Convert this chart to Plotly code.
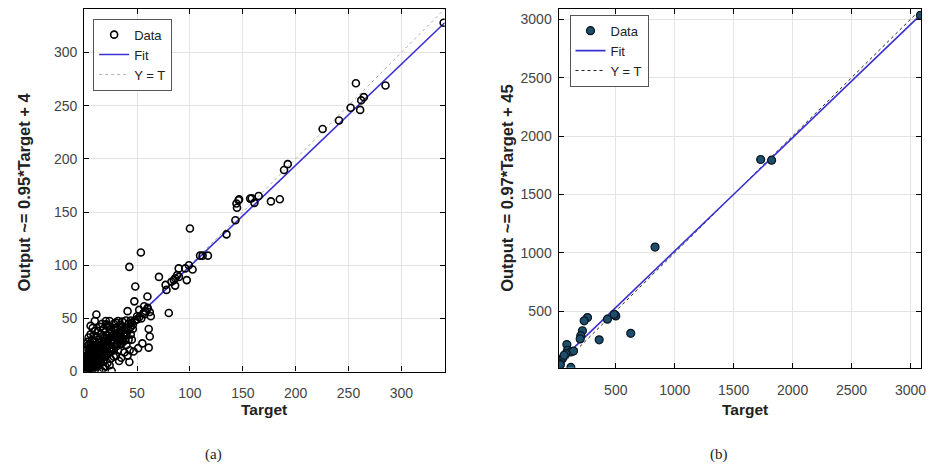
import plotly.graph_objects as go

# ---------- (a) data ----------
target_a = [340, 257, 285, 264.5, 262, 252, 261, 241, 225.5, 192.5, 189, 146, 144, 144.5, 146.5, 157, 158.5, 161, 165, 176.6, 185,
            143, 134.6, 100, 109.6, 112, 117, 99, 102.5, 89.4, 95.6, 88, 86, 89.6, 82.5, 84.8, 77, 77.8, 86, 97, 70.7, 53.6, 42.7,
            48.3, 47.4, 59.8, 41, 52, 56.7, 80, 61, 62, 61, 55, 51, 46.7, 42.7, 26, 16.5, 11.5, 6, 10, 24, 32, 39.6, 21, 8, 20.5, 24.6,
            45, 48, 50, 52, 54, 57, 58, 60, 62, 63, 60, 56, 50, 46, 44, 42, 40, 38, 36, 35, 33, 30, 28, 31, 34, 37, 39, 36, 32, 29, 27,
            25, 26, 24, 22, 20, 23, 21, 19, 18, 17, 16, 15, 14, 13, 12, 11, 10, 9, 8, 7, 6, 5, 4, 3, 2, 1, 2, 3, 4, 1, 2, 5, 6, 3, 8, 10,
            12, 14, 16, 13, 18, 20, 22, 25, 28, 30, 34, 36, 38, 40, 42, 44, 43, 41, 38, 35, 33, 30, 28, 25, 22, 20, 18, 15, 12, 10, 8,
            6, 4, 2, 1, 3, 5, 7, 9, 11, 13, 15, 17, 19, 21, 23, 25, 27, 29, 31, 33, 35, 37, 39, 2, 4, 7, 9, 11, 14, 16, 19, 21, 24, 26,
            29, 31, 34, 1, 3, 5, 7, 6, 9, 12, 15, 17, 10, 4, 2, 32, 28, 24, 20, 18, 14, 40, 42, 44, 46, 45,
            1, 2, 3, 4, 5, 6, 7, 8, 9, 10, 11, 12, 13, 14, 15, 16, 17, 18, 1.5, 2.5, 3.5, 4.5, 5.5, 6.5, 7.5, 8.5, 9.5, 10.5,
            11.5, 12.5, 13.5, 14.5, 1, 2, 3, 4, 5, 6, 7, 8, 9, 10, 22, 26, 30, 34, 27, 31]
output_a = [328, 271, 269, 258, 255, 248, 246, 236, 228, 195, 189.5, 161, 158, 154, 162, 162.6, 163, 158.6, 165, 160, 162,
            142.3, 129, 134.5, 109, 109, 109, 100, 96, 97, 97, 90.7, 87.7, 89, 84.5, 86, 81.5, 76.8, 80.8, 86, 89, 112, 98.4,
            80, 66, 70.6, 56.8, 58, 61.4, 55, 40, 33, 22.5, 26.5, 22, 18.8, 9, 0.6, 0.6, 53.7, 43, 47.5, 47.5, 47.5, 48, 44.4, 41, 47.5, 42.3,
            46, 48, 49, 51, 50, 54, 57, 59, 56, 52, 60, 55, 52, 44, 42, 45, 41, 40, 38, 42, 36, 33, 35, 29, 31, 35, 37, 30, 40, 39, 30,
            28, 33, 22, 26, 24, 31, 19, 28, 21, 17, 25, 20, 13, 18, 16, 10, 14, 12, 8, 11, 6, 9, 4, 7, 3, 2, 10, 15, 18, 17, 20, 22, 27, 28, 30, 29,
            25, 30, 35, 38, 40, 37, 43, 40, 45, 46, 44, 47, 33, 25, 30, 35, 20, 15, 18, 13, 10, 15, 20, 12, 8, 5, 10, 7, 5, 2, 3,
            1, 0.5, 1, 5, 1, 3, 5, 6, 7, 9, 11, 13, 14, 15, 17, 19, 22, 24, 26, 28, 26, 28, 30, 13, 25, 20, 23, 21, 23, 28, 32, 34, 36, 38,
            41, 36, 39, 0.5, 3, 14, 16, 35, 34, 33, 42, 45, 38, 32, 26, 20, 14, 6, 17, 3, 1, 35, 39, 48, 40, 30,
            8, 5, 12, 9, 16, 11, 14, 19, 17, 21, 15, 24, 19, 27, 22, 20, 26, 23, 1, 4, 2, 7, 3, 10, 2, 5, 8, 12, 9, 18, 6, 11,
            20, 12, 24, 16, 19, 14, 24, 13, 25, 18, 29, 21, 32, 26, 20, 24]

# ---------- (b) data ----------
target_b = [3085, 1729, 1822, 833, 627, 359, 494, 429, 260, 232, 217, 203, 198, 500, 486, 85, 91, 119, 141, 76, 48, 6, 11, 34, 119, 20, 62, 20, 30]
output_b = [3035, 1799, 1793, 1048, 309, 253, 466, 430, 444, 416, 331, 289, 261, 458, 472, 213, 163, 149, 157, 135, 93, 56, 36, 73, 17, 51, 121, 25, 40]

fit_a = (0.95, 4)
fit_b = (0.97, 45)
range_a = [0, 341]
range_b = [15, 3090]
ticks_a = [0, 50, 100, 150, 200, 250, 300]
ticks_b = [500, 1000, 1500, 2000, 2500, 3000]

W, H = 935, 470
def px(x):
    return x / W
def py(y):
    return 1 - y / H

fig = go.Figure()

# (a) lines
fig.add_trace(go.Scatter(x=range_a, y=range_a, mode="lines", name="Y = T",
                         line=dict(color="#b0b0b0", width=1, dash="dot"), xaxis="x", yaxis="y",
                         legend="legend", legendrank=3))
fig.add_trace(go.Scatter(x=range_a, y=[fit_a[0] * v + fit_a[1] for v in range_a], mode="lines", name="Fit",
                         line=dict(color="#3a2fd0", width=1.6), xaxis="x", yaxis="y",
                         legend="legend", legendrank=2))
fig.add_trace(go.Scatter(x=target_a, y=output_a, mode="markers", name="Data",
                         marker=dict(symbol="circle-open", size=7, color="black", line=dict(width=1.6, color="black")),
                         xaxis="x", yaxis="y", legend="legend", legendrank=1))

# (b) lines
fig.add_trace(go.Scatter(x=range_b, y=range_b, mode="lines", name="Y = T",
                         line=dict(color="#222222", width=1, dash="dot"), xaxis="x2", yaxis="y2",
                         legend="legend2", legendrank=3))
fig.add_trace(go.Scatter(x=range_b, y=[fit_b[0] * v + fit_b[1] for v in range_b], mode="lines", name="Fit",
                         line=dict(color="#3a2fd0", width=1.6), xaxis="x2", yaxis="y2",
                         legend="legend2", legendrank=2))
fig.add_trace(go.Scatter(x=target_b, y=output_b, mode="markers", name="Data",
                         marker=dict(symbol="circle", size=8, color="#1d4e6b", line=dict(width=1.2, color="#0a1620")),
                         xaxis="x2", yaxis="y2", legend="legend2", legendrank=1))

axis_common = dict(showline=True, linecolor="black", linewidth=1.2, mirror="ticks", ticks="inside",
                   ticklen=5, tickcolor="black", tickwidth=1.2, showgrid=True, gridcolor="#e3e3e3",
                   gridwidth=1, zeroline=False, tickfont=dict(family="Arial, Liberation Sans", size=14, color="#444444"))

fig.update_layout(
    width=W, height=H, margin=dict(l=0, r=0, t=0, b=0),
    paper_bgcolor="white", plot_bgcolor="white",
    xaxis=dict(domain=[px(81), px(445)], range=range_a, tickvals=ticks_a, anchor="y", ticklabelstandoff=9, **axis_common),
    yaxis=dict(domain=[py(378), py(9)], range=range_a, tickvals=ticks_a, anchor="x", ticklabelstandoff=3, **axis_common),
    xaxis2=dict(domain=[px(560), px(926)], range=range_b, tickvals=ticks_b, anchor="y2", ticklabelstandoff=9, **axis_common),
    yaxis2=dict(domain=[py(374), py(9)], range=range_b, tickvals=ticks_b, anchor="x2", ticklabelstandoff=3, **axis_common),
    legend=dict(x=px(90), y=py(19), xanchor="left", yanchor="top", bgcolor="white",
                bordercolor="#555555", borderwidth=1, font=dict(family="Arial, Liberation Sans", size=13, color="#222222"),
                itemwidth=30, tracegroupgap=0),
    legend2=dict(x=px(571), y=py(15), xanchor="left", yanchor="top", bgcolor="white",
                 bordercolor="#555555", borderwidth=1, font=dict(family="Arial, Liberation Sans", size=13, color="#222222"),
                 itemwidth=30, tracegroupgap=0),
    showlegend=True,
)

title_font = dict(family="Arial, Liberation Sans", size=15.5, color="#222222")
ytitle_font = dict(family="Arial, Liberation Sans", size=16.5, color="#222222")
common_anno = dict(xref="paper", yref="paper", showarrow=False, xanchor="center", yanchor="middle", borderpad=0)
annos = [
    dict(text="<b>Target</b>", x=px(263), y=py(417), font=title_font, **common_anno),
    dict(text="<b>Target</b>", x=px(748), y=py(417), font=title_font, **common_anno),
    dict(text="<b>Output ~= 0.95*Target + 4</b>", x=px(20), y=py(195), textangle=-90, font=ytitle_font, **common_anno),
    dict(text="<b>Output ~= 0.97*Target + 45</b>", x=px(508), y=py(192), textangle=-90, font=ytitle_font, **common_anno),
    dict(text="(a)", x=px(212), y=py(462), font=dict(family="Liberation Serif", size=15, color="#222222"), **common_anno),
    dict(text="(b)", x=px(722), y=py(462), font=dict(family="Liberation Serif", size=15, color="#222222"), **common_anno),
]
fig.update_layout(annotations=annos)

fig.write_html("out.html")
